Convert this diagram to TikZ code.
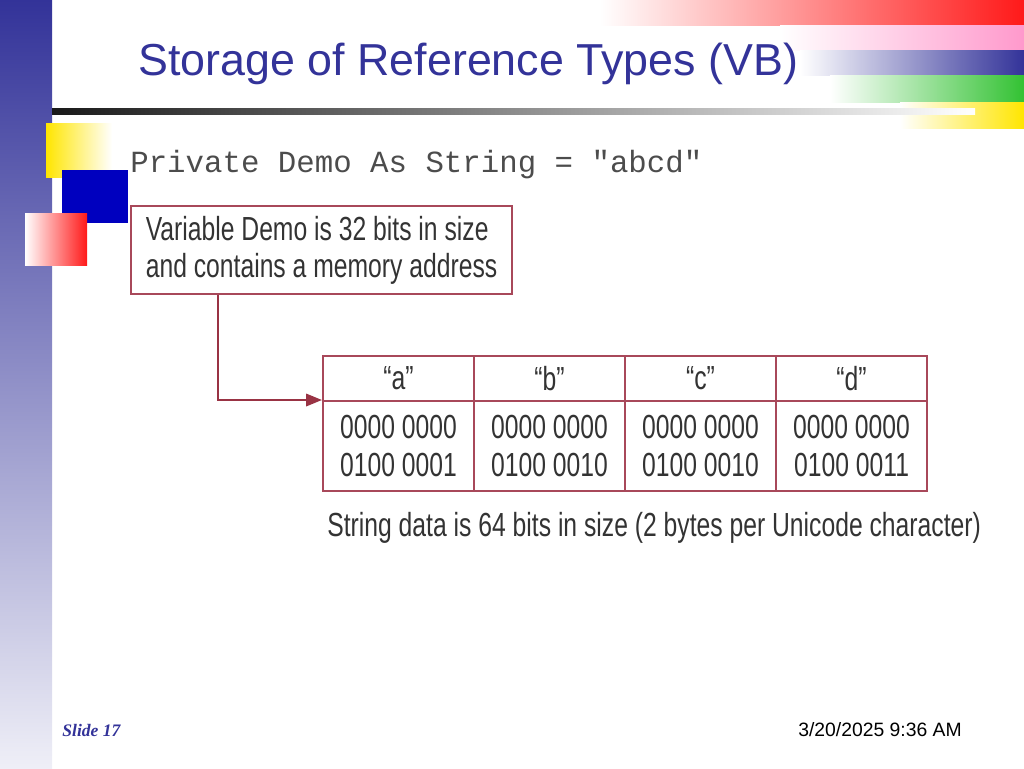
\documentclass[tikz,border=0pt]{standalone}
\usepackage{fontspec}
\setmainfont{Liberation Sans}
\newfontfamily\narrowfont[FakeStretch=0.74]{Liberation Sans}
\newfontfamily\codefont{Liberation Mono}
\newfontfamily\slidefont{Liberation Serif}
\usetikzlibrary{arrows.meta}
\definecolor{slideblue}{HTML}{333399}
\definecolor{boxred}{HTML}{A8485A}
\definecolor{arrowred}{HTML}{993344}
\definecolor{textgray}{HTML}{333333}
\tikzstyle{cell} = [rectangle, draw=boxred, line width=1.2pt, minimum width=151\pxu, text=textgray, font=\narrowfont\fontsize{19}{21}\selectfont, inner sep=0pt]
\newlength{\pxu}
\setlength{\pxu}{0.02cm}

\begin{document}
\begin{tikzpicture}[x=0.02cm, y=-0.02cm]
        \useasboundingbox (0,0) rectangle (1024,768);
        % background decoration
        \shade[top color=slideblue, bottom color=slideblue!8] (0,0) rectangle (52,768);
        \shade[left color=white, right color=red!90] (600,0) rectangle (1024,25);
        \shade[left color=white, right color=pink!80!magenta] (780,25) rectangle (1024,50);
        \shade[left color=white, right color=slideblue] (800,50) rectangle (1024,75);
        \shade[left color=white, right color=green!70!black!80] (830,75) rectangle (1024,102);
        \shade[left color=white, right color=yellow!80!orange] (900,102) rectangle (1024,128);
        \shade[left color=black!90, right color=white] (52,108) rectangle (975,114);
        \shade[left color=yellow!80!orange, right color=white] (46,123) rectangle (112,177);
        \fill[blue!75!black] (62,170) rectangle (128,223);
        \shade[left color=white, right color=red!90] (25,213) rectangle (87,265);

        \node (title) [anchor=base west, text=slideblue, inner sep=0pt, font=\fontsize{25.5}{30}\selectfont] at (138,75) {Storage of Reference Types (VB)};

        \node (code) [anchor=west, text=black!70, font=\codefont\fontsize{17.5}{21}\selectfont, inner sep=0pt] at (130,165) {Private Demo As String = "abcd"};

        \node (var) [rectangle, draw=boxred, line width=1.2pt, minimum width=381\pxu, minimum height=88\pxu, anchor=north west, align=left, text=textgray, font=\narrowfont\fontsize{19}{21}\selectfont] at (130,205) {Variable Demo is 32 bits in size\\and contains a memory address};

        % table
        \foreach \ch/\hi/\lo [count=\i from 0] in {a/0000 0000/0100 0001, b/0000 0000/0100 0010, c/0000 0000/0100 0010, d/0000 0000/0100 0011} {
            \node (h\ch) [cell, minimum height=45\pxu, anchor=north west] at (322+151*\i,355) {“\ch”};
            \node (v\ch) [cell, minimum height=90\pxu, anchor=north west, align=center] at (322+151*\i,400) {\hi\\[1pt]\lo};
        }
        \coordinate (bend) at (218,400);
        \draw [arrowred, line width=1.3pt, -{Triangle[length=9pt,width=7pt]}] (var.south -| bend) -- (bend) -- (bend -| ha.west);

        \node (caption) [anchor=west, text=textgray, font=\narrowfont\fontsize{19}{23}\selectfont, inner sep=0pt] at (327,528) {String data is 64 bits in size (2 bytes per Unicode character)};

        \node (slide) [anchor=west, text=slideblue, font=\slidefont\bfseries\itshape\fontsize{10}{12}\selectfont, inner sep=0pt] at (62,730) {Slide 17};
        \node (date) [anchor=east, font=\fontsize{11}{13}\selectfont, inner sep=0pt] at (962,730) {3/20/2025 9:36 AM};
    \end{tikzpicture}
\end{document}
